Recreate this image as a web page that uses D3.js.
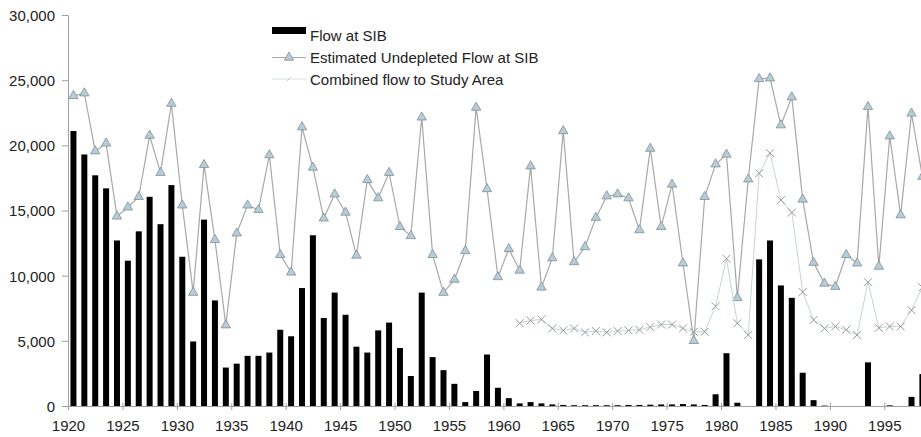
<!DOCTYPE html>
<html>
<head>
<meta charset="utf-8">
<script src="https://cdn.jsdelivr.net/npm/d3@7"></script>
<style>
  html, body { margin: 0; padding: 0; background: #fff; overflow: hidden; }
  svg { display: block; }
  .axis text { font-family: "Liberation Sans", Arial, sans-serif; font-size: 15px; fill: #222; }
  .axis path, .axis line { stroke: #a0a0a0; }
  .legend text { font-family: "Liberation Sans", Arial, sans-serif; font-size: 15px; fill: #222; }
</style>
</head>
<body>
<div id="chart"></div>
<script>
// categories: water years shown on the chart
const years = d3.range(1920, 1999);

// Flow at SIB (bars), 1920-1998
const flowAtSIB = [
  21100, 19300, 17700, 16700, 12700, 11150, 13400, 16050, 13950, 16950,
  11450, 4950, 14300, 8100, 2950, 3250, 3850, 3850, 4100, 5850,
  5350, 9050, 13100, 6750, 8700, 7000, 4550, 4100, 5800, 6400,
  4450, 2300, 8700, 3750, 2750, 1700, 300, 1150, 3950, 1400,
  600, 200, 300, 200, 120, 80, 60, 60, 60, 60,
  60, 80, 80, 100, 120, 120, 150, 120, 80, 900,
  4050, 250, 0, 11250, 12700, 9250, 8300, 2550, 450, 30,
  0, 0, 0, 3350, 0, 50, 0, 700, 2450
];

// Estimated Undepleted Flow at SIB (triangles), 1920-1998
const undepletedFlow = [
  23800, 24000, 19550, 20150, 14550, 15250, 16050, 20750, 17900, 23200,
  15400, 8700, 18500, 12750, 6200, 13250, 15400, 15050, 19250, 11600,
  10250, 21400, 18300, 14400, 16250, 14850, 11550, 17350, 15950, 17900,
  13750, 13050, 22150, 11600, 8700, 9700, 11900, 22900, 16650, 9900,
  12050, 10400, 18400, 9100, 11350, 21100, 11050, 12200, 14450, 16100,
  16250, 15950, 13500, 19750, 13750, 17000, 10950, 5000, 16050, 18550,
  19300, 8300, 17400, 25100, 25150, 21550, 23700, 15850, 11000, 9400,
  9150, 11600, 10950, 22950, 10700, 20700, 14650, 22450, 17600
];

// Combined flow to Study Area (x markers), 1961-1998
const combinedYears = d3.range(1961, 1999);
const combinedFlow = [
  6350, 6550, 6650, 5950, 5800, 5950, 5650, 5750, 5650, 5750,
  5800, 5850, 6050, 6250, 6250, 5950, 5700, 5700, 7650, 11300,
  6350, 5450, 17850, 19400, 15800, 14850, 8750, 6600, 5950, 6100,
  5850, 5450, 9500, 6000, 6100, 6100, 7350, 9100
];

const yTicks = [0, 5000, 10000, 15000, 20000, 25000, 30000];
const xTicks = [1920, 1925, 1930, 1935, 1940, 1945, 1950, 1955, 1960, 1965, 1970, 1975, 1980, 1985, 1990, 1995];

const seriesNames = ['Flow at SIB', 'Estimated Undepleted Flow at SIB', 'Combined flow to Study Area'];

const width = 921, height = 437;
const margin = { top: 15, left: 68, bottom: 31 };
const step = 10.884; // pixels per year

const svg = d3.select('#chart').append('svg')
  .attr('width', width)
  .attr('height', height);

// year axis runs on past the right edge, the picture is clipped there
const x = d3.scaleLinear()
  .domain([1920, 2000])
  .range([margin.left, margin.left + 80 * step]);

const y = d3.scaleLinear()
  .domain([0, 30000])
  .range([height - margin.bottom, margin.top]);

// Y axis
const yAxis = svg.append('g')
  .attr('class', 'axis')
  .attr('transform', `translate(${margin.left},0)`)
  .call(d3.axisLeft(y).tickValues(yTicks).tickFormat(d3.format(',')).tickSize(6).tickPadding(7).tickSizeOuter(0));
yAxis.selectAll('text').attr('dy', '0.36em');

// X axis
const xAxis = svg.append('g')
  .attr('class', 'axis')
  .attr('transform', `translate(0,${y(0)})`)
  .call(d3.axisBottom(x).tickValues(xTicks).tickFormat(d3.format('d')).tickSize(4).tickPadding(10).tickSizeOuter(0));
xAxis.selectAll('.tick line').attr('y1', -3);

// Bars - flow at SIB
svg.append('g')
  .selectAll('rect')
  .data(years.map((yr, i) => ({ yr, v: flowAtSIB[i] })))
  .enter()
  .append('rect')
  .attr('x', (d) => x(d.yr + 0.225))
  .attr('width', (d) => x(d.yr + 0.775) - x(d.yr + 0.225))
  .attr('y', (d) => y(d.v))
  .attr('height', (d) => y(0) - y(d.v))
  .attr('fill', '#000');

// Undepleted flow line + triangles
const undepleted = years.map((yr, i) => ({ yr, v: undepletedFlow[i] }));
const line = d3.line().x((d) => x(d.yr + 0.5)).y((d) => y(d.v));

svg.append('path')
  .datum(undepleted)
  .attr('fill', 'none')
  .attr('stroke', '#a8a8a8')
  .attr('stroke-width', 1.2)
  .attr('d', line);

const tri = d3.symbol().type(d3.symbolTriangle).size(38);
svg.append('g')
  .selectAll('path')
  .data(undepleted)
  .enter()
  .append('path')
  .attr('transform', (d) => `translate(${x(d.yr + 0.5)},${y(d.v)})`)
  .attr('d', tri)
  .attr('fill', '#b8ccd5')
  .attr('stroke', '#7d8f99')
  .attr('stroke-width', 0.8);

// Combined flow line + x markers
const combined = combinedYears.map((yr, i) => ({ yr, v: combinedFlow[i] }));

svg.append('path')
  .datum(combined)
  .attr('fill', 'none')
  .attr('stroke', '#c2d5db')
  .attr('stroke-width', 1)
  .attr('d', line);

svg.append('g')
  .selectAll('path')
  .data(combined)
  .enter()
  .append('path')
  .attr('transform', (d) => `translate(${x(d.yr + 0.5)},${y(d.v)})`)
  .attr('d', 'M-4,-4L4,4M-4,4L4,-4')
  .attr('fill', 'none')
  .attr('stroke', '#9a9a9a')
  .attr('stroke-width', 1);

// Legend
const legend = svg.append('g').attr('class', 'legend');
const lx = 272, lw = 34, tx = 310;
const rowY = [36, 57.5, 80];

legend.append('rect')
  .attr('x', lx).attr('y', 27).attr('width', lw).attr('height', 7)
  .attr('fill', '#000');

legend.append('line')
  .attr('x1', lx).attr('x2', lx + lw).attr('y1', rowY[1]).attr('y2', rowY[1])
  .attr('stroke', '#a8a8a8').attr('stroke-width', 1.2);
legend.append('path')
  .attr('transform', `translate(${lx + lw / 2},${rowY[1]})`)
  .attr('d', tri)
  .attr('fill', '#b8ccd5')
  .attr('stroke', '#7d8f99')
  .attr('stroke-width', 0.8);

legend.append('line')
  .attr('x1', lx).attr('x2', lx + lw).attr('y1', rowY[2] - 1).attr('y2', rowY[2] - 1)
  .attr('stroke', '#d6e2e6').attr('stroke-width', 1);
legend.append('path')
  .attr('transform', `translate(${lx + lw / 2},${rowY[2] - 1})`)
  .attr('d', 'M-2,2L2,-2')
  .attr('stroke', '#c8c8c8');

legend.selectAll('text')
  .data(seriesNames)
  .enter()
  .append('text')
  .attr('x', tx)
  .attr('y', (d, i) => rowY[i])
  .attr('dy', '0.36em')
  .text((d) => d);
</script>
</body>
</html>
